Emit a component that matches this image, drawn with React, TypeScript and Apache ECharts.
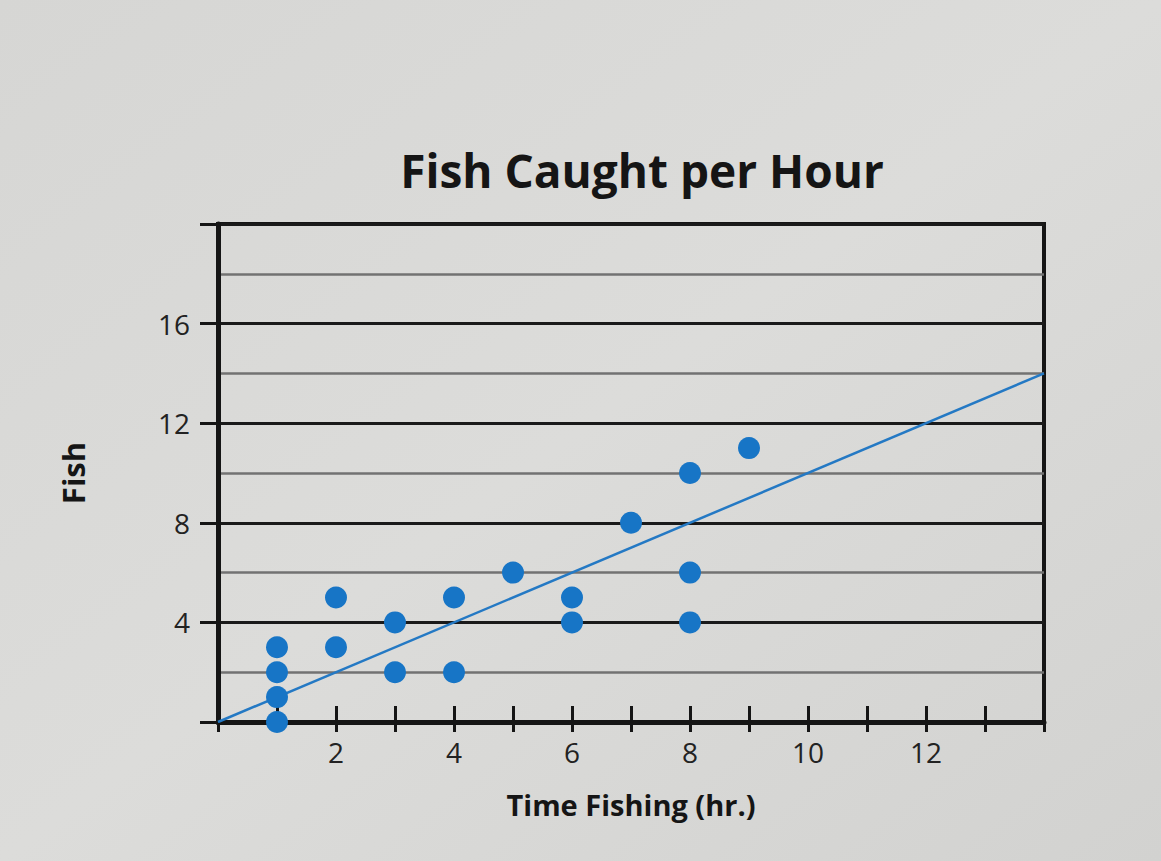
import { useRef, useEffect } from "react";
import * as echarts from "echarts";
import type { EChartsOption } from "echarts";

const hours = [1, 1, 1, 1, 2, 2, 3, 3, 4, 4, 5, 6, 6, 7, 8, 8, 8, 9];
const fish = [3, 2, 1, 0, 5, 3, 4, 2, 5, 2, 6, 5, 4, 8, 10, 6, 4, 11];
const trendX = [0, 14];
const trendY = [0, 14];
const xLabels = [2, 4, 6, 8, 10, 12];
const yLabels = [4, 8, 12, 16];

const FONT = "'Open Sans', 'Noto Sans', sans-serif";

export default function App() {
  const chartRef = useRef<HTMLDivElement>(null);

  useEffect(() => {
    if (!chartRef.current) return;
    const chart = echarts.init(chartRef.current, null, { renderer: "svg" });

    const option: EChartsOption = {
      animation: false,
      backgroundColor: {
        type: "linear",
        x: 0,
        y: 0,
        x2: 1,
        y2: 1,
        colorStops: [
          { offset: 0, color: "#d6d6d4" },
          { offset: 0.5, color: "#dcdcda" },
          { offset: 1, color: "#d2d2d0" },
        ],
      },
      title: {
        text: "Fish Caught per Hour",
        left: 637,
        top: 142,
        textAlign: "center",
        textStyle: { fontFamily: FONT, fontWeight: "bold", fontSize: 46, color: "#151515" },
      },
      grid: {
        left: 218,
        top: 224,
        width: 826,
        height: 498,
        show: true,
        borderColor: "#151515",
        borderWidth: 4,
        backgroundColor: "transparent",
      },
      xAxis: [
        {
          type: "value",
          min: 0,
          max: 14,
          interval: 1,
          name: "Time Fishing (hr.)",
          nameLocation: "middle",
          nameGap: 68,
          nameTextStyle: { fontFamily: FONT, fontWeight: "bold", fontSize: 29, color: "#151515" },
          axisLine: { lineStyle: { color: "#151515", width: 5 } },
          axisTick: { show: true, length: 10, lineStyle: { color: "#151515", width: 3 } },
          axisLabel: {
            fontFamily: FONT,
            fontSize: 28,
            color: "#222",
            margin: 16,
            formatter: (v: number) => (xLabels.includes(v) ? String(v) : ""),
          },
          splitLine: { show: false },
        },
        {
          type: "value",
          position: "bottom",
          min: 0,
          max: 14,
          interval: 1,
          axisLine: { show: false },
          axisTick: { show: true, inside: true, length: 16, lineStyle: { color: "#151515", width: 3 } },
          axisLabel: { show: false },
          splitLine: { show: false },
        },
      ],
      yAxis: [
        {
          type: "value",
          min: 0,
          max: 20,
          interval: 4,
          name: "Fish",
          nameLocation: "middle",
          nameGap: 130,
          nameTextStyle: { fontFamily: FONT, fontWeight: "bold", fontSize: 31, color: "#151515" },
          axisLine: { show: true, lineStyle: { color: "#151515", width: 5 } },
          axisTick: { show: true, length: 18, lineStyle: { color: "#151515", width: 3 } },
          axisLabel: {
            fontFamily: FONT,
            fontSize: 28,
            color: "#222",
            margin: 28,
            formatter: (v: number) => (yLabels.includes(v) ? String(v) : ""),
          },
          splitLine: { show: true, lineStyle: { color: "#1a1a1a", width: 3 } },
        },
        {
          type: "value",
          min: 0,
          max: 20,
          interval: 2,
          position: "left",
          axisLine: { show: false },
          axisTick: { show: false },
          axisLabel: { show: false },
          splitLine: { show: true, lineStyle: { color: ["transparent", "#727272"], width: 2.5 } },
        },
      ],
      series: [
        {
          type: "line",
          data: trendX.map((x, i) => [x, trendY[i]]),
          symbol: "none",
          lineStyle: { color: "#2479c4", width: 2.5 },
          z: 3,
        },
        {
          type: "scatter",
          data: hours.map((h, i) => [h, fish[i]]),
          symbolSize: 22,
          itemStyle: { color: "#1775c6", opacity: 1 },
          z: 4,
        },
      ],
    };

    chart.setOption(option);
    return () => chart.dispose();
  }, []);

  return (
    <div
      ref={chartRef}
      style={{ position: "fixed", left: 0, top: 0, width: 1161, height: 861 }}
    />
  );
}
